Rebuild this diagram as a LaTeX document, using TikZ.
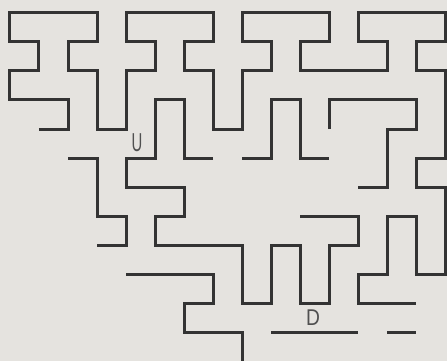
\documentclass[tikz,border=0pt]{standalone}
\usepackage{fontspec}
\usepackage{graphicx}
\setmainfont{Liberation Sans}
\definecolor{bg}{HTML}{E5E3DF}
\definecolor{wallc}{HTML}{333333}
\definecolor{letc}{HTML}{505050}
\begin{document}
\begin{tikzpicture}[x=29pt,y=-29pt,
  wall/.style={draw=wallc,line width=3pt,line join=miter,line cap=butt},
  lettr/.style={text=letc,inner sep=0pt,font=\fontsize{24}{24}\selectfont}]
\fill[bg] (-0.3448,-0.4483) rectangle (15.069,12.0);
\useasboundingbox (-0.3448,-0.4483) rectangle (15.069,12.0);
% main outer wall
\draw[wall] (1,4)--(2,4)--(2,3)--(0,3)--(0,2)--(1,2)--(1,1)--(0,1)--(0,0)--(3,0)--(3,1)--(2,1)--(2,2)--(3,2)--(3,4)--(4,4)--(4,2)--(5,2)--(5,1)--(4,1)--(4,0)--(7,0)--(7,1)--(6,1)--(6,2)--(7,2)--(7,4)--(8,4)--(8,2)--(9,2)--(9,1)--(8,1)--(8,0)--(11,0)--(11,1)--(10,1)--(10,2)--(13,2)--(13,1)--(12,1)--(12,0)--(15,0)--(15,1)--(14,1)--(14,2)--(15,2)--(15,5)--(14,5)--(14,6)--(15,6)--(15,9)--(14,9)--(14,7)--(13,7)--(13,9)--(12,9)--(12,10)--(14,10);
% inner walls
\draw[wall] (2,5)--(3,5)--(3,7)--(4,7)--(4,8)--(3,8);
\draw[wall] (7,5)--(6,5)--(6,3)--(5,3)--(5,5)--(4,5)--(4,6)--(6,6)--(6,7)--(5,7)--(5,8)--(8,8)--(8,10)--(9,10)--(9,8)--(10,8)--(10,10)--(11,10)--(11,8)--(12,8)--(12,7)--(10,7);
\draw[wall] (4,9)--(7,9)--(7,10)--(6,10)--(6,11)--(8,11)--(8,12);
\draw[wall] (8,5)--(9,5)--(9,3)--(10,3)--(10,5)--(11,5);
\draw[wall] (11,4)--(11,3)--(14,3)--(14,4)--(13,4)--(13,6)--(12,6);
\draw[wall] (9,11)--(12,11);
\draw[wall] (13,11)--(14,11);
% labels
\node[lettr] (u) at (4.38,4.48) {\scalebox{0.62}[1.08]{U}};
\node[lettr] (d) at (10.45,10.52) {\scalebox{0.8}[0.95]{D}};
\end{tikzpicture}
\end{document}
